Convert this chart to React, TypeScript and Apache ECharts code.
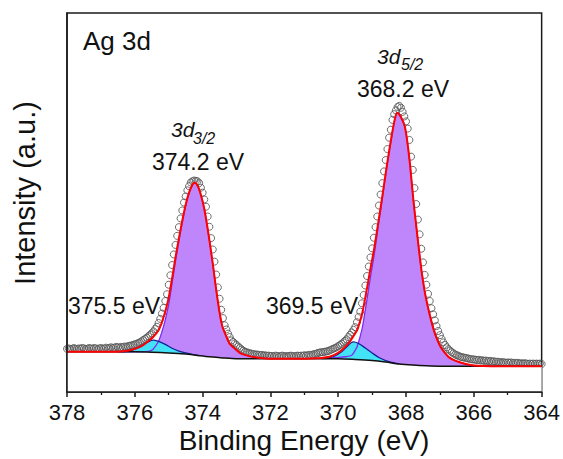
import React, { useEffect, useRef } from "react";
import * as echarts from "echarts";

// Binding energy axis
const X_MIN = 364;
const X_MAX = 378;
const X_INTERVAL = 2;

// Measured spectrum (open circles): [binding energy, intensity]
const observed: [number, number][] = [
  [378.0, 11.4], [377.95, 11.5], [377.9, 11.3], [377.85, 11.4], [377.8, 11.6], [377.75, 11.4], [377.7, 11.3], [377.65, 11.5], [377.6, 11.4], [377.55, 11.6],
  [377.5, 11.5], [377.45, 11.3], [377.4, 11.4], [377.35, 11.6], [377.3, 11.5], [377.25, 11.4], [377.2, 11.6], [377.15, 11.5], [377.1, 11.3], [377.05, 11.5],
  [377.0, 11.6], [376.95, 11.4], [376.9, 11.5], [376.85, 11.7], [376.8, 11.5], [376.75, 11.6], [376.7, 11.8], [376.65, 11.6], [376.6, 11.7], [376.55, 11.9],
  [376.5, 11.8], [376.45, 11.7], [376.4, 11.9], [376.35, 11.8], [376.3, 12.0], [376.25, 11.9], [376.2, 12.1], [376.15, 12.2], [376.1, 12.3], [376.05, 12.4],
  [376.0, 12.6], [375.95, 12.7], [375.9, 12.9], [375.85, 13.1], [375.8, 13.4], [375.75, 13.7], [375.7, 14.0], [375.65, 14.3], [375.6, 14.7], [375.55, 15.1],
  [375.5, 15.5], [375.45, 16.0], [375.4, 16.6], [375.35, 17.2], [375.3, 18.2], [375.25, 19.3], [375.2, 20.7], [375.15, 22.2], [375.1, 24.0], [375.05, 25.8],
  [375.0, 28.3], [374.95, 30.8], [374.9, 33.5], [374.85, 36.3], [374.8, 38.8], [374.75, 41.2], [374.7, 43.5], [374.65, 45.8], [374.6, 47.9], [374.55, 50.0],
  [374.5, 51.6], [374.45, 53.2], [374.4, 54.3], [374.35, 55.3], [374.3, 55.6], [374.25, 55.8], [374.2, 55.7], [374.15, 55.6], [374.1, 55.1], [374.05, 53.9],
  [374.0, 52.6], [373.95, 50.8], [373.9, 48.9], [373.85, 46.3], [373.8, 43.6], [373.75, 40.6], [373.7, 37.6], [373.65, 34.4], [373.6, 31.0], [373.55, 27.6],
  [373.5, 24.6], [373.45, 21.7], [373.4, 19.5], [373.35, 17.6], [373.3, 16.5], [373.25, 15.4], [373.2, 14.5], [373.15, 13.6], [373.1, 13.2], [373.05, 12.8],
  [373.0, 12.4], [372.95, 12.0], [372.9, 11.6], [372.85, 11.2], [372.8, 10.9], [372.75, 10.6], [372.7, 10.5], [372.65, 10.3], [372.6, 10.2], [372.55, 10.1],
  [372.5, 10.0], [372.45, 9.9], [372.4, 9.9], [372.35, 9.8], [372.3, 9.7], [372.25, 9.8], [372.2, 9.6], [372.15, 9.7], [372.1, 9.5], [372.05, 9.6],
  [372.0, 9.5], [371.95, 9.5], [371.9, 9.4], [371.85, 9.6], [371.8, 9.5], [371.75, 9.4], [371.7, 9.5], [371.65, 9.6], [371.6, 9.4], [371.55, 9.5],
  [371.5, 9.4], [371.45, 9.5], [371.4, 9.6], [371.35, 9.5], [371.3, 9.4], [371.25, 9.5], [371.2, 9.6], [371.15, 9.5], [371.1, 9.6], [371.05, 9.5],
  [371.0, 9.7], [370.95, 9.6], [370.9, 9.7], [370.85, 9.8], [370.8, 9.7], [370.75, 9.9], [370.7, 10.0], [370.65, 10.1], [370.6, 10.3], [370.55, 10.4],
  [370.5, 10.5], [370.45, 10.5], [370.4, 10.6], [370.35, 10.7], [370.3, 10.8], [370.25, 11.0], [370.2, 11.2], [370.15, 11.4], [370.1, 11.6], [370.05, 11.8],
  [370.0, 12.1], [369.95, 12.4], [369.9, 12.7], [369.85, 13.1], [369.8, 13.5], [369.75, 13.9], [369.7, 14.5], [369.65, 15.1], [369.6, 15.7], [369.55, 16.4],
  [369.5, 17.1], [369.45, 18.4], [369.4, 19.8], [369.35, 21.2], [369.3, 23.4], [369.25, 25.6], [369.2, 28.1], [369.15, 30.6], [369.1, 33.1], [369.05, 35.5],
  [369.0, 37.9], [368.95, 40.7], [368.9, 43.5], [368.85, 46.3], [368.8, 49.2], [368.75, 52.1], [368.7, 55.1], [368.65, 58.2], [368.6, 61.2], [368.55, 64.1],
  [368.5, 67.1], [368.45, 69.2], [368.4, 71.8], [368.35, 73.3], [368.3, 74.3], [368.25, 75.2], [368.2, 75.5], [368.15, 75.0], [368.1, 73.9], [368.05, 72.7],
  [368.0, 71.4], [367.95, 69.5], [367.9, 66.5], [367.85, 62.1], [367.8, 58.6], [367.75, 53.8], [367.7, 49.6], [367.65, 45.5], [367.6, 41.6], [367.55, 37.8],
  [367.5, 34.2], [367.45, 30.9], [367.4, 28.3], [367.35, 25.9], [367.3, 24.0], [367.25, 22.1], [367.2, 20.5], [367.15, 18.9], [367.1, 17.4], [367.05, 16.1],
  [367.0, 15.0], [366.95, 14.0], [366.9, 13.1], [366.85, 12.4], [366.8, 11.8], [366.75, 11.3], [366.7, 10.9], [366.65, 10.5], [366.6, 10.2], [366.55, 9.9],
  [366.5, 9.7], [366.45, 9.5], [366.4, 9.3], [366.35, 9.2], [366.3, 9.1], [366.25, 9.0], [366.2, 8.9], [366.15, 8.8], [366.1, 8.7], [366.05, 8.6],
  [366.0, 8.6], [365.95, 8.5], [365.9, 8.4], [365.85, 8.5], [365.8, 8.3], [365.75, 8.4], [365.7, 8.2], [365.65, 8.3], [365.6, 8.2], [365.55, 8.1],
  [365.5, 8.2], [365.45, 8.0], [365.4, 8.1], [365.35, 7.9], [365.3, 8.0], [365.25, 7.9], [365.2, 7.8], [365.15, 7.9], [365.1, 7.8], [365.05, 7.7],
  [365.0, 7.8], [364.95, 7.7], [364.9, 7.8], [364.85, 7.6], [364.8, 7.7], [364.75, 7.6], [364.7, 7.7], [364.65, 7.5], [364.6, 7.6], [364.55, 7.5],
  [364.5, 7.6], [364.45, 7.5], [364.4, 7.4], [364.35, 7.5], [364.3, 7.4], [364.25, 7.5], [364.2, 7.4], [364.15, 7.5], [364.1, 7.4], [364.05, 7.5],
  [364.0, 7.4],
];

// Fitted envelope (red)
const envelope: [number, number][] = [
  [378.0, 10.6], [377.0, 10.6], [376.6, 10.6], [376.3, 10.8], [376.15, 11.0], [376.0, 11.4], [375.8, 12.1], [375.6, 13.4],
  [375.46, 14.5], [375.3, 16.3], [375.2, 18.4], [375.1, 21.3], [375.0, 24.9], [374.9, 30.0], [374.8, 35.5], [374.7, 40.5],
  [374.6, 45.2], [374.5, 49.4], [374.4, 52.6], [374.3, 54.7], [374.24, 55.2], [374.15, 54.5], [374.05, 52.0], [373.95, 48.3],
  [373.85, 43.0], [373.75, 37.0], [373.68, 32.5], [373.6, 27.0], [373.5, 21.0], [373.42, 17.4], [373.3, 14.6], [373.2, 12.7],
  [373.0, 11.1], [372.86, 10.1], [372.6, 9.4], [372.3, 9.0], [372.0, 8.8], [371.0, 8.8], [370.5, 9.0], [370.26, 9.3],
  [370.03, 10.2], [369.85, 11.4], [369.68, 13.0], [369.56, 14.6], [369.44, 16.4], [369.3, 20.5], [369.21, 24.5], [369.1, 30.0],
  [369.04, 33.0], [368.94, 37.8], [368.84, 43.5], [368.71, 51.0], [368.57, 59.5], [368.42, 67.8], [368.33, 72.0], [368.26, 73.7],
  [368.18, 73.0], [368.1, 71.6], [368.04, 70.2], [367.99, 67.8], [367.94, 64.5], [367.88, 59.8], [367.79, 51.2], [367.68, 42.3],
  [367.57, 33.9], [367.5, 29.3], [367.42, 25.1], [367.3, 20.3], [367.18, 16.3], [367.08, 13.8], [366.98, 11.9], [366.86, 10.4],
  [366.74, 9.2], [366.6, 8.5], [366.44, 7.9], [366.2, 7.3], [366.0, 7.0], [365.5, 6.8], [364.0, 6.8],
];

// Ag 3d3/2 component (background + peak, purple)
const peak3d32: [number, number][] = [
  [376.4, 10.6], [376.0, 10.6], [375.8, 10.6], [375.6, 10.7], [375.46, 11.3], [375.3, 13.4], [375.2, 15.9], [375.1, 19.1],
  [375.0, 23.1], [374.9, 28.7], [374.8, 34.5], [374.7, 39.8], [374.6, 44.7], [374.5, 49.1], [374.4, 52.5], [374.3, 54.6],
  [374.24, 55.2], [374.15, 54.5], [374.05, 52.0], [373.95, 48.3], [373.85, 43.0], [373.75, 37.0], [373.68, 32.5], [373.6, 27.0],
  [373.5, 21.0], [373.42, 17.4], [373.3, 14.6], [373.2, 12.7], [373.0, 11.1], [372.86, 10.1], [372.6, 9.4], [372.3, 9.0], [372.0, 8.8],
];

// Ag 3d5/2 component (background + peak, purple)
const peak3d52: [number, number][] = [
  [370.4, 8.8], [370.0, 9.1], [369.8, 9.3], [369.6, 9.7], [369.5, 11.0], [369.44, 12.0], [369.3, 16.5], [369.21, 21.2],
  [369.1, 27.4], [369.04, 30.8], [368.94, 36.2], [368.84, 42.4], [368.71, 50.4], [368.57, 59.2], [368.42, 67.6], [368.33, 71.9],
  [368.26, 73.7], [368.18, 73.0], [368.1, 71.6], [368.04, 70.2], [367.99, 67.8], [367.94, 64.5], [367.88, 59.8], [367.79, 51.2],
  [367.68, 42.3], [367.57, 33.9], [367.5, 29.3], [367.42, 25.1], [367.3, 20.3], [367.18, 16.3], [367.08, 13.8], [366.98, 11.9],
  [366.86, 10.4], [366.74, 9.2], [366.6, 8.5], [366.44, 7.9], [366.2, 7.3], [366.0, 7.0], [365.5, 6.8],
];

// Satellite at 375.5 eV (background + peak, cyan)
const sat375: [number, number][] = [
  [376.5, 10.6], [376.2, 10.8], [376.0, 11.3], [375.8, 12.2], [375.6, 13.25], [375.46, 13.7], [375.3, 13.35],
  [375.1, 12.55], [374.9, 11.55], [374.7, 10.8], [374.5, 10.3], [374.3, 9.9], [374.1, 9.6],
];

// Satellite at 369.5 eV (background + peak, cyan)
const sat369: [number, number][] = [
  [370.5, 8.8], [370.3, 9.0], [370.1, 9.5], [369.9, 10.6], [369.75, 11.9], [369.56, 13.2], [369.4, 12.8],
  [369.2, 11.6], [369.0, 10.3], [368.8, 9.1], [368.6, 8.3], [368.4, 7.8], [368.2, 7.4],
];

// Shirley-type background (black)
const background: [number, number][] = [
  [378.0, 10.6], [376.0, 10.6], [375.5, 10.5], [375.0, 10.3], [374.5, 10.0], [374.2, 9.7], [373.8, 9.3], [373.4, 9.0],
  [373.0, 8.8], [370.0, 8.8], [369.5, 8.6], [369.0, 8.3], [368.6, 7.9], [368.2, 7.4], [367.8, 7.1], [367.4, 6.9],
  [367.0, 6.8], [364.0, 6.8],
];

const FONT = '"Liberation Sans", Arial, sans-serif';

export default function App() {
  const ref = useRef<HTMLDivElement>(null);

  useEffect(() => {
    if (!ref.current) return;
    const chart = echarts.init(ref.current, undefined, { renderer: "svg" });
    const purpleFill = "#bf86fb";
    const purpleLine = "#7d2cf0";
    const cyanFill = "#44e2f6";
    const cyanLine = "#16209a";

    const areaSeries = (data: [number, number][], fill: string, line: string) => ({
      type: "line",
      data,
      smooth: 0.3,
      symbol: "none",
      lineStyle: { color: line, width: 1.3 },
      areaStyle: { color: fill, opacity: 1 },
      silent: true,
    });

    chart.setOption({
      animation: false,
      grid: {
        left: 67,
        right: 20,
        top: 13,
        bottom: 67,
        show: true,
        borderColor: "#1a1a1a",
        borderWidth: 1.5,
        backgroundColor: "transparent",
      },
      xAxis: {
        type: "value",
        min: X_MIN,
        max: X_MAX,
        interval: X_INTERVAL,
        inverse: true,
        z: 10,
        axisLine: { show: true, onZero: false, lineStyle: { color: "#1a1a1a", width: 1.5 } },
        axisTick: { show: true, inside: false, length: 5, lineStyle: { color: "#1a1a1a", width: 1.5 } },
        minorTick: { show: true, splitNumber: 2, length: 3, lineStyle: { color: "#1a1a1a", width: 1.3 } },
        splitLine: { show: false },
        minorSplitLine: { show: false },
        axisLabel: {
          show: true,
          margin: 9,
          fontSize: 22,
          fontFamily: FONT,
          color: "#111",
          showMinLabel: true,
          showMaxLabel: true,
        },
      },
      yAxis: {
        type: "value",
        min: 0,
        max: 100,
        z: 10,
        axisLine: { show: true, lineStyle: { color: "#1a1a1a", width: 1.5 } },
        axisTick: { show: false },
        axisLabel: { show: false },
        splitLine: { show: false },
      },
      series: [
        areaSeries(peak3d32, purpleFill, purpleLine),
        areaSeries(peak3d52, purpleFill, purpleLine),
        areaSeries(sat375, cyanFill, cyanLine),
        areaSeries(sat369, cyanFill, cyanLine),
        {
          type: "line",
          data: background,
          smooth: 0.3,
          symbol: "none",
          lineStyle: { color: "#111", width: 1.5 },
          areaStyle: { color: "#ffffff", opacity: 1 },
          silent: true,
        },
        {
          type: "scatter",
          data: observed,
          symbol: "circle",
          symbolSize: 7,
          itemStyle: { color: "rgba(255,255,255,0)", borderColor: "#555", borderWidth: 1, opacity: 0.85 },
          silent: true,
        },
        {
          type: "line",
          data: envelope,
          smooth: 0.3,
          symbol: "none",
          lineStyle: { color: "#ff0000", width: 2 },
          silent: true,
        },
      ],
      graphic: [
        {
          type: "text",
          x: 83,
          y: 41,
          style: { text: "Ag 3d", fontSize: 26, fontFamily: FONT, fill: "#111", align: "left", verticalAlign: "middle" },
        },
        {
          type: "text",
          x: 171,
          y: 129,
          style: { text: "3d", fontSize: 21, fontStyle: "italic", fontFamily: FONT, fill: "#111", align: "left", verticalAlign: "middle" },
        },
        {
          type: "text",
          x: 193,
          y: 138,
          style: { text: "3/2", fontSize: 16, fontStyle: "italic", fontFamily: FONT, fill: "#111", align: "left", verticalAlign: "middle" },
        },
        {
          type: "text",
          x: 198,
          y: 162,
          style: { text: "374.2 eV", fontSize: 23, fontFamily: FONT, fill: "#111", align: "center", verticalAlign: "middle" },
        },
        {
          type: "text",
          x: 377,
          y: 56,
          style: { text: "3d", fontSize: 21, fontStyle: "italic", fontFamily: FONT, fill: "#111", align: "left", verticalAlign: "middle" },
        },
        {
          type: "text",
          x: 401,
          y: 64,
          style: { text: "5/2", fontSize: 16, fontStyle: "italic", fontFamily: FONT, fill: "#111", align: "left", verticalAlign: "middle" },
        },
        {
          type: "text",
          x: 403,
          y: 89,
          style: { text: "368.2 eV", fontSize: 23, fontFamily: FONT, fill: "#111", align: "center", verticalAlign: "middle" },
        },
        {
          type: "text",
          x: 114,
          y: 306,
          style: { text: "375.5 eV", fontSize: 23, fontFamily: FONT, fill: "#111", align: "center", verticalAlign: "middle" },
        },
        {
          type: "text",
          x: 312,
          y: 306,
          style: { text: "369.5 eV", fontSize: 23, fontFamily: FONT, fill: "#111", align: "center", verticalAlign: "middle" },
        },
        {
          type: "text",
          x: 304,
          y: 440,
          style: { text: "Binding Energy (eV)", fontSize: 28, fontFamily: FONT, fill: "#111", align: "center", verticalAlign: "middle" },
        },
        {
          type: "text",
          x: 25,
          y: 193,
          rotation: Math.PI / 2,
          style: { text: "Intensity (a.u.)", fontSize: 29, fontFamily: FONT, fill: "#111", align: "center", verticalAlign: "middle" },
        },
      ],
    });

    return () => {
      chart.dispose();
    };
  }, []);

  return (
    <div
      ref={ref}
      style={{ position: "fixed", left: 0, top: 0, width: 563, height: 459, background: "#fff" }}
    />
  );
}
